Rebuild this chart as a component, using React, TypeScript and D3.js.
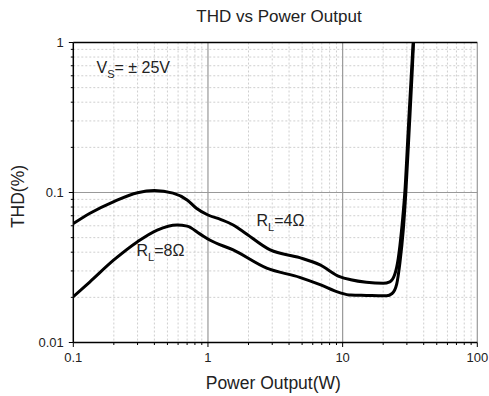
import React from "react";
import * as d3 from "d3";

// THD vs output power
const power4 = [0.1, 0.133, 0.2, 0.3, 0.4, 0.55, 0.7, 0.82, 1.0, 1.25, 1.54, 1.83, 2.9, 4.8, 6.8, 9.5, 11.5, 15, 20, 22.4, 24.4, 25.9, 27.4, 29.0, 30.7, 32.5, 33.4];
const thd4 = [0.062, 0.0727, 0.087, 0.0997, 0.103, 0.099, 0.0892, 0.0785, 0.0708, 0.066, 0.0607, 0.0548, 0.0414, 0.0368, 0.0329, 0.0275, 0.0262, 0.0252, 0.0248, 0.0254, 0.0285, 0.0365, 0.0563, 0.102, 0.261, 0.656, 1.0];
const power8 = [0.1, 0.133, 0.2, 0.3, 0.42, 0.59, 0.7, 0.87, 1.03, 1.54, 2.73, 4.8, 6.8, 9.5, 11.5, 15, 20, 21.2, 23.3, 25.2, 26.6, 28.2, 29.5, 31.2, 32.9, 33.6];
const thd8 = [0.0202, 0.0254, 0.0355, 0.047, 0.0562, 0.0607, 0.0597, 0.053, 0.0482, 0.0414, 0.0313, 0.0272, 0.0243, 0.0215, 0.0207, 0.0206, 0.0205, 0.0205, 0.0212, 0.0245, 0.0337, 0.0563, 0.102, 0.261, 0.656, 1.0];

const xTicks = [0.1, 1, 10, 100];
const xTickLabels = ["0.1", "1", "10", "100"];
const yTicks = [0.01, 0.1, 1];
const yTickLabels = ["0.01", "0.1", "1"];

const W = 489;
const H = 396;
const margin = { top: 42.5, right: 11.7, bottom: 53.5, left: 73.3 };
const FONT = "'Liberation Sans', Arial, sans-serif";

function minors(decades: number[]) {
  const out: number[] = [];
  for (let i = 0; i < decades.length - 1; i++) {
    for (let k = 2; k <= 9; k++) out.push(decades[i] * k);
  }
  return out;
}

export default function App() {
  const x = d3.scaleLog().domain([0.1, 100]).range([margin.left, W - margin.right]);
  const y = d3.scaleLog().domain([0.01, 1]).range([H - margin.bottom, margin.top]);
  const x0 = margin.left;
  const x1 = W - margin.right;
  const y0 = H - margin.bottom;
  const y1 = margin.top;

  const line = d3
    .line<[number, number]>()
    .x((d) => x(d[0]))
    .y((d) => y(d[1]))
    .curve(d3.curveMonotoneX);

  const d4 = line(power4.map((p, i) => [p, thd4[i]] as [number, number]));
  const d8 = line(power8.map((p, i) => [p, thd8[i]] as [number, number]));

  const xMinor = minors(xTicks);
  const yMinor = minors(yTicks);

  return (
    <svg
      width={W}
      height={H}
      style={{ position: "absolute", left: 0, top: 0, background: "#fff" }}
      fontFamily={FONT}
    >
      <defs>
        <clipPath id="plot">
          <rect x={x0} y={y1 - 1} width={x1 - x0} height={y0 - y1 + 1} />
        </clipPath>
      </defs>

      {/* minor grid */}
      <g stroke="#cfcfcf" strokeWidth={1} strokeDasharray="2,2">
        {xMinor.map((v) => (
          <line key={"xm" + v} x1={x(v)} x2={x(v)} y1={y1} y2={y0} />
        ))}
        {yMinor.map((v) => (
          <line key={"ym" + v} x1={x0} x2={x1} y1={y(v)} y2={y(v)} />
        ))}
      </g>

      {/* major grid */}
      <g stroke="#999" strokeWidth={1.2}>
        {xTicks.slice(1).map((v) => (
          <line key={"xg" + v} x1={x(v)} x2={x(v)} y1={y1} y2={y0} />
        ))}
        {yTicks.slice(1, -1).map((v) => (
          <line key={"yg" + v} x1={x0} x2={x1} y1={y(v)} y2={y(v)} />
        ))}
      </g>

      {/* curves */}
      <g clipPath="url(#plot)" fill="none" stroke="#000" strokeWidth={3} strokeLinejoin="round">
        <path d={d4 || ""} />
        <path d={d8 || ""} />
      </g>

      {/* frame */}
      <line x1={x0} x2={x1} y1={y1} y2={y1} stroke="#000" strokeWidth={1.5} />
      <line x1={x0} x2={x0} y1={y1} y2={y0} stroke="#000" strokeWidth={1.5} />
      <line x1={x0} x2={x1} y1={y0} y2={y0} stroke="#000" strokeWidth={1.5} />

      {/* ticks */}
      <g stroke="#000" strokeWidth={1}>
        {xTicks.map((v) => (
          <line key={"xt" + v} x1={x(v)} x2={x(v)} y1={y0} y2={y0 + 4.5} />
        ))}
        {xMinor.map((v) => (
          <line key={"xmt" + v} x1={x(v)} x2={x(v)} y1={y0} y2={y0 + 2.5} />
        ))}
        {yTicks.map((v) => (
          <line key={"yt" + v} x1={x0 - 4.5} x2={x0} y1={y(v)} y2={y(v)} />
        ))}
        {yMinor.map((v) => (
          <line key={"ymt" + v} x1={x0 - 2.5} x2={x0} y1={y(v)} y2={y(v)} />
        ))}
      </g>

      {/* tick labels */}
      <g fontSize={13} fill="#222">
        {xTicks.map((v, i) => (
          <text key={"xl" + v} x={x(v)} y={y0 + 19.2} textAnchor="middle">
            {xTickLabels[i]}
          </text>
        ))}
        {yTicks.map((v, i) => (
          <text key={"yl" + v} x={x0 - 9.5} y={y(v)} dy="0.35em" textAnchor="end">
            {yTickLabels[i]}
          </text>
        ))}
      </g>

      {/* titles */}
      <text x={279} y={22} fontSize={17} textAnchor="middle" fill="#222">
        THD vs Power Output
      </text>
      <text x={(x0 + x1) / 2 - 2} y={388.5} fontSize={17.5} textAnchor="middle" fill="#222">
        Power Output(W)
      </text>
      <text
        transform={`translate(24,${(y0 + y1) / 2 + 4}) rotate(-90)`}
        fontSize={17.5}
        textAnchor="middle"
        fill="#222"
      >
        THD(%)
      </text>

      {/* annotations */}
      <g fontSize={16} fill="#222">
        <text x={96.5} y={73.3}>
          V<tspan fontSize={11} dy={4.5}>S</tspan>
          <tspan dy={-4.5}>= ± 25V</tspan>
        </text>
        <text x={256.5} y={226}>
          R<tspan fontSize={11} dy={4.5}>L</tspan>
          <tspan dy={-4.5}>=4Ω</tspan>
        </text>
        <text x={136.5} y={256}>
          R<tspan fontSize={11} dy={4.5}>L</tspan>
          <tspan dy={-4.5}>=8Ω</tspan>
        </text>
      </g>
    </svg>
  );
}
